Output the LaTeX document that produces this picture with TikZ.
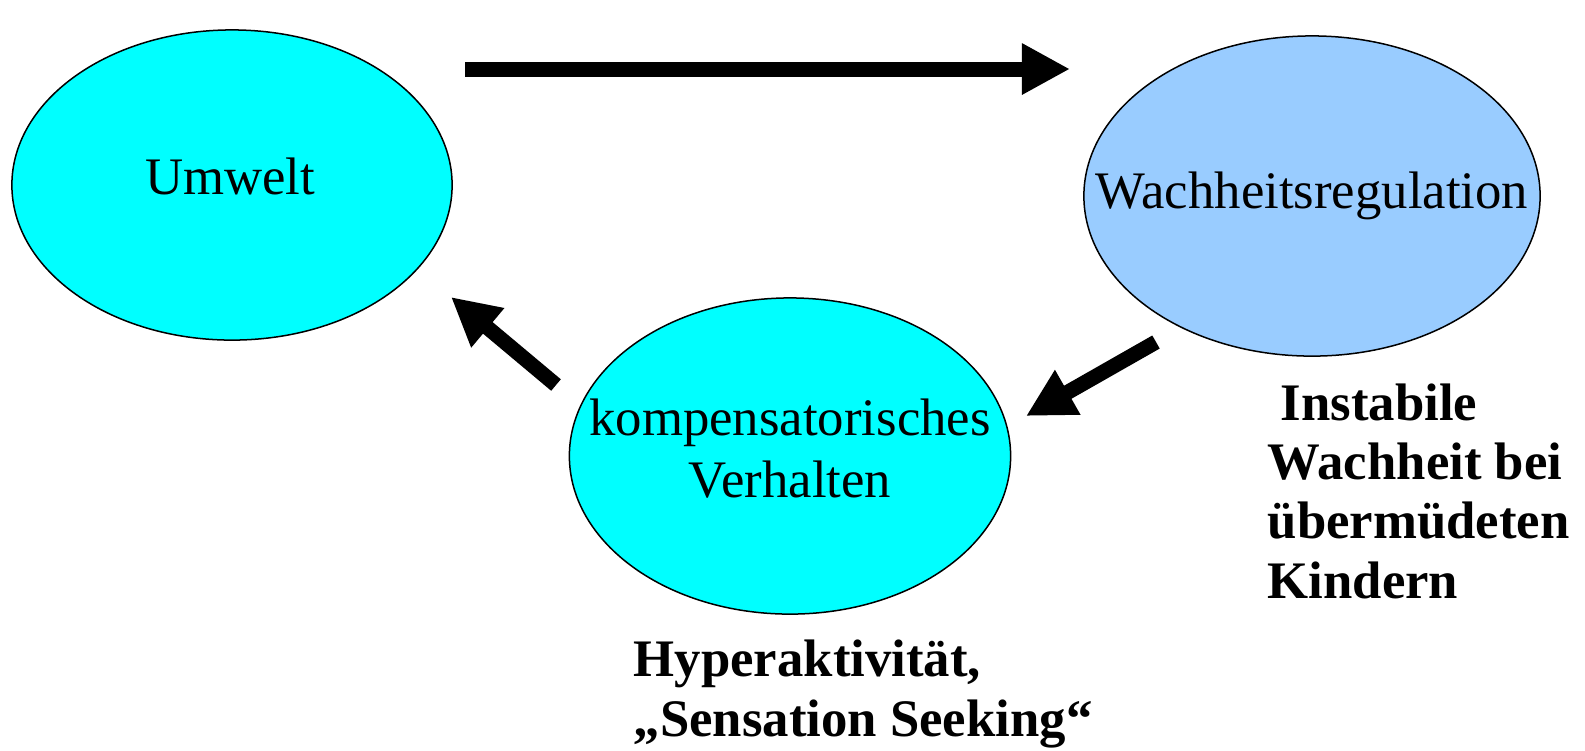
\documentclass[tikz,border=0pt]{standalone}
\usepackage{fontspec}
\setmainfont{Liberation Serif}
\usetikzlibrary{arrows.meta,shapes.geometric}
\definecolor{cyanfill}{RGB}{0,255,255}
\definecolor{bluefill}{RGB}{153,204,255}
\tikzset{
  oval/.style={ellipse, draw=black, line width=0.015cm, inner sep=0pt},
  lbl/.style={font=\fontsize{15}{17.6}\selectfont, inner sep=0pt, anchor=base, align=center},
  bold/.style={font=\fontsize{15}{16.8}\selectfont\bfseries, inner sep=0pt, align=left, anchor=base west},
  bigarrow/.style={line width=0.15cm, -{Triangle[length=0.48cm,width=0.48cm]}}
}
\begin{document}
\begin{tikzpicture}[x=0.01cm,y=-0.01cm]
\useasboundingbox (0,0) rectangle (1585,750);
\node[oval, fill=cyanfill, minimum width=4.40cm, minimum height=3.10cm] (umw) at (232,185) {};
\node[oval, fill=bluefill, minimum width=4.56cm, minimum height=3.20cm] (wach) at (1312,196) {};
\node[oval, fill=cyanfill, minimum width=4.41cm, minimum height=3.16cm] (komp) at (790,456) {};
\node[lbl] (tumw) at (230,194) {Umwelt};
\node[lbl] (twach) at (1312,208) {Wachheitsregulation};
\node[lbl] (tkomp) at (790,497) {kompensatorisches\\Verhalten};
\node[bold] (tinst) at (1267,598) {\hspace*{0.25em}Instabile\\Wachheit bei\\übermüdeten\\Kindern};
\node[bold] (thyp) at (633,736) {Hyperaktivität,\\„Sensation Seeking“};
\coordinate (a1s) at (465,69);
\coordinate (a1e) at (1070,69);
\coordinate (a2s) at (1156,342);
\coordinate (a2e) at (1026,416);
\coordinate (a3s) at (556,385);
\coordinate (a3e) at (451,297);
\draw[bigarrow] (a1s) -- (a1e);
\draw[bigarrow] (a2s) -- (a2e);
\draw[bigarrow] (a3s) -- (a3e);
\end{tikzpicture}
\end{document}
